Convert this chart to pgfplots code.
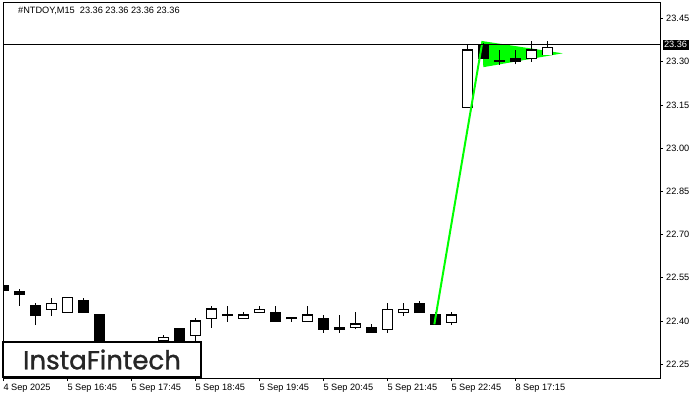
\documentclass[border=0pt]{standalone}
\usepackage{pgfplots}
\pgfplotsset{compat=1.18}
\usepackage{pgfplotstable}
\usepackage{fontspec}
\setmainfont{Liberation Sans}
\newfontfamily\logofont{Poppins}[FakeBold=1.2]
\definecolor{limeg}{RGB}{0,255,0}

\pgfplotstableread{
k o h l c
0 22.5215 22.5285 22.4972 22.5076
1 22.5017 22.5111 22.4521 22.4903
2 22.4521 22.4615 22.3861 22.4184
5 22.4694 22.4809 22.4302 22.4302
6 22.4208 22.4208 22.2700 22.2800
8 22.3000 22.3050 22.2600 22.2700
11 22.3722 22.3722 22.3200 22.3250
14 22.4225 22.4521 22.3976 22.4190
17 22.4302 22.4521 22.3976 22.3976
18 22.4112 22.4112 22.3976 22.4077
20 22.4094 22.4208 22.3594 22.3712
21 22.3781 22.4208 22.3594 22.3712
23 22.3781 22.3896 22.3594 22.3594
26 22.4615 22.4694 22.4288 22.4288
27 22.4208 22.4323 22.3885 22.3885
30 23.3608 23.3653 23.3097 23.3097
31 23.3045 23.3410 23.2889 23.3010
32 23.3122 23.3410 23.2913 23.3003
}\downbars

\pgfplotstableread{
k o h l c
3 22.4406 22.4809 22.4184 22.4615
4 22.4302 22.4809 22.4302 22.4809
7 22.2800 22.3100 22.2600 22.3000
9 22.2700 22.3250 22.2600 22.3200
10 22.3330 22.3514 22.3200 22.3420
12 22.3490 22.4115 22.3300 22.4000
13 22.4094 22.4531 22.3767 22.4417
15 22.4094 22.4302 22.4094 22.4208
16 22.4302 22.4521 22.4302 22.4406
19 22.3976 22.4521 22.3976 22.4208
22 22.3781 22.4323 22.3712 22.3896
24 22.3712 22.4615 22.3594 22.4406
25 22.4288 22.4615 22.4174 22.4406
28 22.3955 22.4323 22.3861 22.4208
29 23.1420 23.3618 23.1420 23.3410
33 23.3122 23.3722 23.3003 23.3410
34 23.3236 23.3722 23.3236 23.3490
}\upbars

\begin{document}
\begin{tikzpicture}[x=1pt,y=1pt]
\useasboundingbox (0,0) rectangle (700,400);
\fill[white] (0,0) rectangle (700,400);
\begin{axis}[
  at={(3pt,22pt)}, anchor=south west,
  scale only axis, width=657pt, height=375pt,
  xmin=-0.01875, xmax=41.04375, ymin=22.20208, ymax=23.50417,
  axis line style={black, line width=1pt},
  tick style={black, line width=1pt},
  tick align=outside, major tick length=3pt,
  ytick={22.25,22.40,22.55,22.70,22.85,23.00,23.15,23.30,23.45},
  ytick pos=right, yticklabel pos=right,
  xtick={0,4,8,12,16,20,24,28,32}, xtick pos=left,
  xticklabels={4 Sep 2025,5 Sep 16:45,5 Sep 17:45,5 Sep 18:45,5 Sep 19:45,5 Sep 20:45,5 Sep 21:45,5 Sep 22:45,8 Sep 17:15},
  /pgf/number format/assume math mode=true,
  yticklabel style={/pgf/number format/.cd, fixed, fixed zerofill, precision=2, /tikz/.cd,
     anchor=west, inner sep=0pt, xshift=3pt, font=\fontsize{9.2}{10}\selectfont},
  xticklabel style={anchor=north west, inner sep=0pt, yshift=-3pt, font=\fontsize{9.2}{10}\selectfont},
  clip=true,
]
% pennant
\addplot[fill=limeg, draw=none] coordinates {(29.94,23.372) (30.0,23.2813) (34.96,23.3295)} -- cycle;
% wicks
\addplot[draw=none, mark=none, error bars/.cd, y dir=plus, y explicit, error mark=none,
  error bar style={draw=black, line width=1pt}]
  table[x=k, y=l, y error expr=\thisrow{h}-\thisrow{l}] {\downbars};
\addplot[draw=none, mark=none, error bars/.cd, y dir=plus, y explicit, error mark=none,
  error bar style={draw=black, line width=1pt}]
  table[x=k, y=l, y error expr=\thisrow{h}-\thisrow{l}] {\upbars};
% bearish bodies
\addplot[draw=none, mark=none, error bars/.cd, y dir=plus, y explicit, error mark=none,
  error bar style={draw=black, line width=10.5pt}]
  table[x=k, y expr=\thisrow{c}-0.0017, y error expr=\thisrow{o}-\thisrow{c}+0.0035] {\downbars};
% bullish bodies
\addplot[draw=none, mark=none, error bars/.cd, y dir=plus, y explicit, error mark=none,
  error bar style={draw=black, line width=10.5pt}]
  table[x=k, y expr=\thisrow{o}-0.0017, y error expr=\thisrow{c}-\thisrow{o}+0.0035] {\upbars};
\addplot[draw=none, mark=none, error bars/.cd, y dir=plus, y explicit, error mark=none,
  error bar style={draw=white, line width=8.5pt}]
  table[x=k, y expr=\thisrow{o}+0.0017, y error expr=\thisrow{c}-\thisrow{o}-0.0035] {\upbars};
% flag pole
\addplot[limeg, line width=2pt] coordinates {(26.94,22.3885) (29.95,23.3722)};
% price line
\addplot[black, line width=1pt] coordinates {(-1,23.36) (42,23.36)};
\end{axis}
\node[fill=black, text=white, anchor=west, minimum height=10pt, inner xsep=1.5pt, inner ysep=0pt,
  font=\fontsize{9.2}{10}\selectfont] at (662.3,355.5) {23.36};
\node[anchor=base west, inner sep=0pt, font=\fontsize{9.2}{10}\selectfont] at (18,386) {\#NTDOY,M15\ \ 23.36 23.36 23.36 23.36};
\node[draw=black, line width=2pt, fill=white, minimum width=198pt, minimum height=35pt, inner sep=0pt]
  at (102,40.5) {\logofont\fontsize{26}{26}\selectfont\color{black!85}InstaFintech};
\end{tikzpicture}
\end{document}
